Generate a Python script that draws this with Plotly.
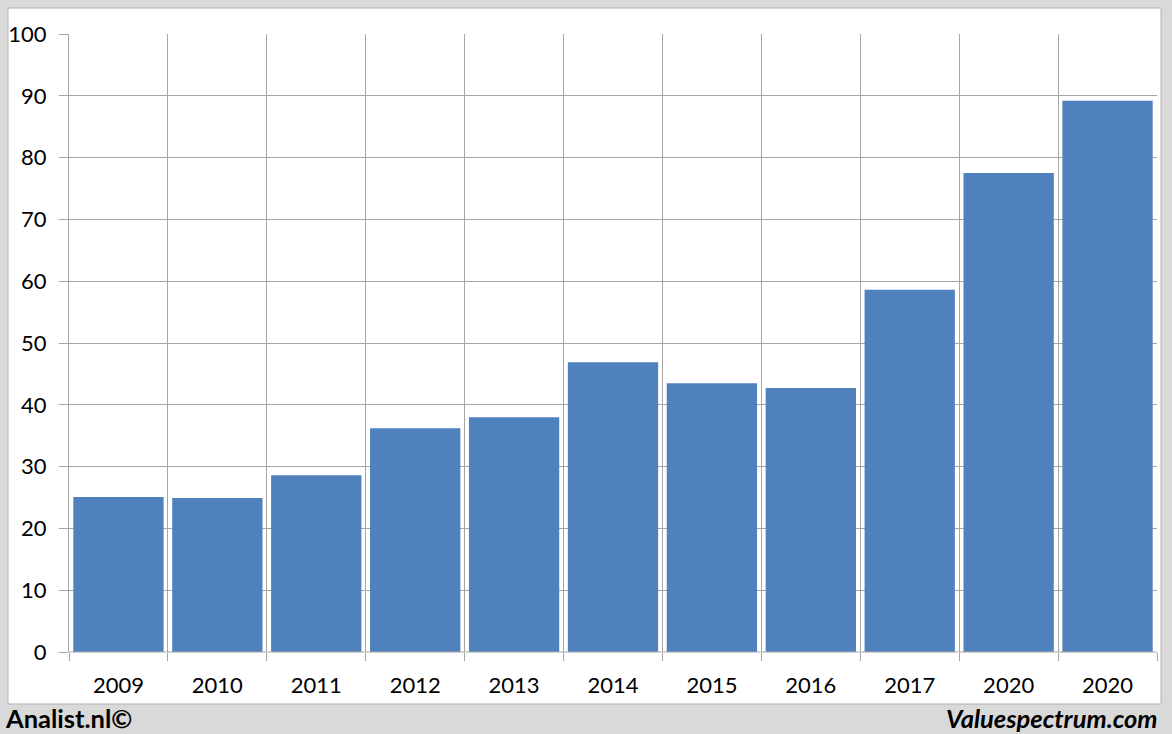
import plotly.graph_objects as go

categories = ["2009", "2010", "2011", "2012", "2013", "2014", "2015", "2016", "2017", "2020", "2020"]
values = [25.1, 24.9, 28.6, 36.2, 38.0, 46.9, 43.5, 42.7, 58.6, 77.5, 89.2]
y_ticks = [0, 10, 20, 30, 40, 50, 60, 70, 80, 90, 100]

W, H = 1172, 734
L, R, T, B = 69, 1157, 34, 652  # plot area pixel box

def px_x(x):
    return (x - L) / (R - L)

def px_y(y):
    return (B - y) / (B - T)

positions = list(range(len(categories)))
boundaries = [i - 0.5 for i in range(len(categories) + 1)]

fig = go.Figure()
fig.add_trace(go.Bar(
    x=positions, y=values,
    marker=dict(color="#4F81BD", line=dict(width=0)),
    hoverinfo="y",
))

grid = "#a6a6a6"
font = "Lato, 'Open Sans', sans-serif"

fig.update_layout(
    width=W, height=H,
    margin=dict(l=L, r=W - R, t=T, b=H - B, pad=0, autoexpand=False),
    paper_bgcolor="#d9d9d9",
    plot_bgcolor="white",
    bargap=0.087,
    showlegend=False,
    font=dict(family=font, size=22, color="black"),
    xaxis=dict(
        range=[-0.5, len(categories) - 0.5],
        automargin=False,
        tickmode="array", tickvals=positions, ticktext=categories,
        ticks="", showgrid=False, zeroline=False,
        showline=False,
        ticklabelstandoff=18,
        tickfont=dict(size=22),
        minor=dict(tickmode="array", tickvals=boundaries, showgrid=True,
                   gridcolor=grid, gridwidth=1, ticks="outside", ticklen=8,
                   tickcolor=grid, tickwidth=1),
        fixedrange=True,
    ),
    yaxis=dict(
        range=[0, 100],
        automargin=False,
        tickmode="array", tickvals=y_ticks,
        ticks="outside", ticklen=9, tickcolor=grid, tickwidth=1,
        showgrid=True, gridcolor=grid, gridwidth=1,
        zeroline=False, showline=True, linecolor=grid, linewidth=1,
        ticklabelstandoff=8,
        tickfont=dict(size=22),
        fixedrange=True,
    ),
    shapes=[
        dict(type="rect", xref="paper", yref="paper", layer="below",
             x0=px_x(8), x1=px_x(1161), y0=px_y(704), y1=px_y(8),
             fillcolor="white", line=dict(color="#b3b3b3", width=1)),
        dict(type="line", xref="paper", yref="paper", layer="above",
             x0=0, x1=1, y0=0, y1=0, line=dict(color=grid, width=1)),
    ],
    annotations=[
        dict(text="<b>Analist.nl©</b>", xref="paper", yref="paper",
             x=px_x(3), y=px_y(718), xanchor="left", yanchor="middle",
             showarrow=False, font=dict(family=font, size=25.5, color="black")),
        dict(text="<b><i>Valuespectrum.com</i></b>", xref="paper", yref="paper",
             x=px_x(1160), y=px_y(718), xanchor="right", yanchor="middle",
             showarrow=False, font=dict(family=font, size=25.5, color="black")),
    ],
)

fig.write_html(
    "out.html",
    config={"displayModeBar": False},
    post_script="document.body.style.margin='0';document.body.style.padding='0';"
                "document.body.style.background='#d9d9d9';",
)
